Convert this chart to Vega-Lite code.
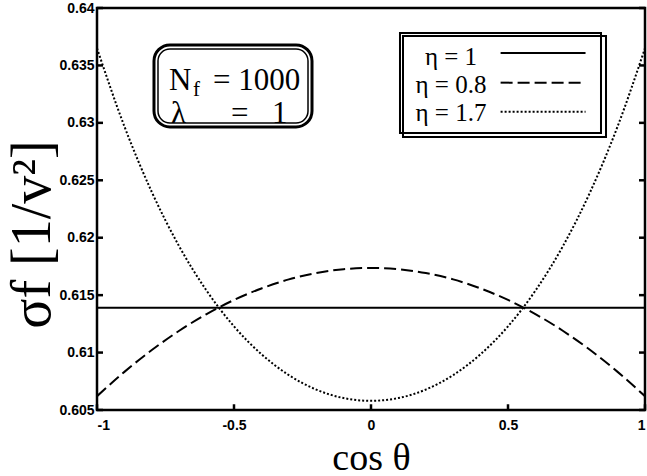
{
  "$schema": "https://vega.github.io/schema/vega-lite/v6.json",
  "autosize": "none",
  "width": 548,
  "height": 402,
  "padding": {"left": 97, "top": 8, "right": 2, "bottom": 66},
  "background": "white",
  "config": {
    "view": {"stroke": "black", "strokeWidth": 2.5},
    "axis": {"grid": false, "domain": false, "ticks": false, "labelColor": "black", "labelFont": "Liberation Sans", "labelFontSize": 14, "labelFontWeight": "bold", "titleColor": "black"}
  },
  "datasets": {
    "curves": [
      {"c": -1, "s": 0.6139, "eta": "1"},
      {"c": 1, "s": 0.6139, "eta": "1"},
      {"c": -1, "s": 0.6062, "eta": "0.8"},
      {"c": -0.9, "s": 0.60832, "eta": "0.8"},
      {"c": -0.8, "s": 0.61022, "eta": "0.8"},
      {"c": -0.7, "s": 0.6119, "eta": "0.8"},
      {"c": -0.6, "s": 0.61335, "eta": "0.8"},
      {"c": -0.5, "s": 0.61458, "eta": "0.8"},
      {"c": -0.4, "s": 0.61558, "eta": "0.8"},
      {"c": -0.3, "s": 0.61637, "eta": "0.8"},
      {"c": -0.2, "s": 0.61692, "eta": "0.8"},
      {"c": -0.1, "s": 0.61726, "eta": "0.8"},
      {"c": 0, "s": 0.61737, "eta": "0.8"},
      {"c": 0.1, "s": 0.61726, "eta": "0.8"},
      {"c": 0.2, "s": 0.61692, "eta": "0.8"},
      {"c": 0.3, "s": 0.61637, "eta": "0.8"},
      {"c": 0.4, "s": 0.61558, "eta": "0.8"},
      {"c": 0.5, "s": 0.61458, "eta": "0.8"},
      {"c": 0.6, "s": 0.61335, "eta": "0.8"},
      {"c": 0.7, "s": 0.6119, "eta": "0.8"},
      {"c": 0.8, "s": 0.61022, "eta": "0.8"},
      {"c": 0.9, "s": 0.60832, "eta": "0.8"},
      {"c": 1, "s": 0.6062, "eta": "0.8"},
      {"c": -1, "s": 0.6365, "eta": "1.7"},
      {"c": -0.9, "s": 0.62969, "eta": "1.7"},
      {"c": -0.8, "s": 0.62398, "eta": "1.7"},
      {"c": -0.7, "s": 0.61925, "eta": "1.7"},
      {"c": -0.6, "s": 0.61539, "eta": "1.7"},
      {"c": -0.5, "s": 0.61228, "eta": "1.7"},
      {"c": -0.4, "s": 0.60986, "eta": "1.7"},
      {"c": -0.3, "s": 0.60804, "eta": "1.7"},
      {"c": -0.2, "s": 0.60678, "eta": "1.7"},
      {"c": -0.1, "s": 0.60604, "eta": "1.7"},
      {"c": 0, "s": 0.6058, "eta": "1.7"},
      {"c": 0.1, "s": 0.60604, "eta": "1.7"},
      {"c": 0.2, "s": 0.60678, "eta": "1.7"},
      {"c": 0.3, "s": 0.60804, "eta": "1.7"},
      {"c": 0.4, "s": 0.60986, "eta": "1.7"},
      {"c": 0.5, "s": 0.61228, "eta": "1.7"},
      {"c": 0.6, "s": 0.61539, "eta": "1.7"},
      {"c": 0.7, "s": 0.61925, "eta": "1.7"},
      {"c": 0.8, "s": 0.62398, "eta": "1.7"},
      {"c": 0.9, "s": 0.62969, "eta": "1.7"},
      {"c": 1, "s": 0.6365, "eta": "1.7"}
    ],
    "yticks": [{"v": 0.605}, {"v": 0.61}, {"v": 0.615}, {"v": 0.62}, {"v": 0.625}, {"v": 0.63}, {"v": 0.635}, {"v": 0.64}],
    "xticks": [{"v": -1}, {"v": -0.5}, {"v": 0}, {"v": 0.5}, {"v": 1}],
    "one": [{}]
  },
  "data": {"name": "curves"},
  "resolve": {"axis": {"y": "independent"}},
  "layer": [
    {
      "mark": {"type": "line", "color": "black", "strokeWidth": 2, "interpolate": "monotone", "clip": true},
      "encoding": {
        "x": {"field": "c", "type": "quantitative", "scale": {"domain": [-1, 1], "nice": false},
          "axis": {"values": [-1, -0.5, 0, 0.5, 1], "labelExpr": "'' + datum.value", "labelPadding": 8, "labelFontSize": 14,
            "title": "cos θ", "titleFont": "Liberation Serif", "titleFontSize": 38, "titleFontWeight": "normal", "titleBaseline": "alphabetic", "titleY": 59}},
        "y": {"field": "s", "type": "quantitative", "scale": {"domain": [0.605, 0.64], "nice": false, "zero": false},
          "axis": {"orient": "left", "values": [0.605, 0.61, 0.615, 0.62, 0.625, 0.63, 0.635, 0.64], "labelExpr": "'' + datum.value", "labelPadding": 3, "labelFontSize": 14,
            "title": "σf  [1/v²]", "titleFont": "Liberation Serif", "titleFontSize": 56, "titleFontWeight": "normal", "titleBaseline": "middle", "titleAlign": "center", "titleX": -65, "titleY": 226}},
        "strokeDash": {"field": "eta", "type": "nominal",
          "scale": {"domain": ["1", "0.8", "1.7"], "range": [[1, 0], [12, 5], [2, 2]]}, "legend": null}
      }
    },
    {
      "data": {"name": "yticks"},
      "mark": {"type": "rule", "color": "black", "strokeWidth": 2.5},
      "encoding": {
        "x": {"datum": -1}, "x2": {"datum": -0.978},
        "y": {"field": "v", "type": "quantitative", "axis": null}
      }
    },
    {
      "data": {"name": "yticks"},
      "mark": {"type": "rule", "color": "black", "strokeWidth": 2.5},
      "encoding": {
        "x": {"datum": 0.978}, "x2": {"datum": 1},
        "y": {"field": "v", "type": "quantitative", "axis": null}
      }
    },
    {
      "data": {"name": "xticks"},
      "mark": {"type": "rule", "color": "black", "strokeWidth": 2.5},
      "encoding": {
        "x": {"field": "v", "type": "quantitative"},
        "y": {"datum": 0.605, "axis": null}, "y2": {"datum": 0.6055}
      }
    },
    {
      "data": {"name": "one"},
      "mark": {"type": "rect", "fill": "white", "stroke": "black", "strokeWidth": 2},
      "encoding": {
        "x": {"datum": 0.1168}, "x2": {"datum": 0.8577},
        "y": {"datum": 0.63756, "axis": null}, "y2": {"datum": 0.62877}
      }
    },
    {
      "data": {"name": "one"},
      "mark": {"type": "rect", "fill": null, "stroke": "black", "strokeWidth": 2},
      "encoding": {
        "x": {"datum": 0.1058}, "x2": {"datum": 0.8394},
        "y": {"datum": 0.63782, "axis": null}, "y2": {"datum": 0.62912}
      }
    },
    {
      "data": {"name": "one"},
      "mark": {"type": "rule", "color": "black", "strokeWidth": 2},
      "encoding": {
        "x": {"datum": 0.473}, "x2": {"datum": 0.783},
        "y": {"datum": 0.63608, "axis": null}
      }
    },
    {
      "data": {"name": "one"},
      "mark": {"type": "rule", "color": "black", "strokeWidth": 2, "strokeDash": [12, 5]},
      "encoding": {
        "x": {"datum": 0.473}, "x2": {"datum": 0.783},
        "y": {"datum": 0.6335, "axis": null}
      }
    },
    {
      "data": {"name": "one"},
      "mark": {"type": "rule", "color": "black", "strokeWidth": 2, "strokeDash": [2, 2]},
      "encoding": {
        "x": {"datum": 0.473}, "x2": {"datum": 0.783},
        "y": {"datum": 0.63097, "axis": null}
      }
    },
    {
      "data": {"name": "one"},
      "mark": {"type": "text", "font": "Liberation Serif", "fontSize": 25, "align": "center", "baseline": "alphabetic", "lineHeight": 28, "color": "black"},
      "encoding": {
        "x": {"datum": 0.292},
        "y": {"datum": 0.63504, "axis": null},
        "text": {"value": ["η = 1", "η = 0.8", "η = 1.7"]}
      }
    },
    {
      "data": {"name": "one"},
      "mark": {"type": "rect", "fill": "white", "stroke": "black", "strokeWidth": 3, "cornerRadius": 16},
      "encoding": {
        "x": {"datum": -0.792}, "x2": {"datum": -0.2153},
        "y": {"datum": 0.63678, "axis": null}, "y2": {"datum": 0.62964}
      }
    },
    {
      "data": {"name": "one"},
      "mark": {"type": "rect", "fill": null, "stroke": "black", "strokeWidth": 1.5, "cornerRadius": 12},
      "encoding": {
        "x": {"datum": -0.7774}, "x2": {"datum": -0.2299},
        "y": {"datum": 0.63643, "axis": null}, "y2": {"datum": 0.62999}
      }
    },
    {
      "data": {"name": "one"},
      "mark": {"type": "text", "font": "Liberation Serif", "fontSize": 31, "align": "left", "baseline": "alphabetic", "color": "black"},
      "encoding": {
        "x": {"datum": -0.7372},
        "y": {"datum": 0.632861, "axis": null},
        "text": {"value": "N"}
      }
    },
    {
      "data": {"name": "one"},
      "mark": {"type": "text", "font": "Liberation Serif", "fontSize": 21, "align": "left", "baseline": "alphabetic", "color": "black"},
      "encoding": {
        "x": {"datum": -0.6496},
        "y": {"datum": 0.632339, "axis": null},
        "text": {"value": "f"}
      }
    },
    {
      "data": {"name": "one"},
      "mark": {"type": "text", "font": "Liberation Serif", "fontSize": 31, "align": "left", "baseline": "alphabetic", "color": "black"},
      "encoding": {
        "x": {"datum": -0.5766},
        "y": {"datum": 0.632861, "axis": null},
        "text": {"value": "= 1000"}
      }
    },
    {
      "data": {"name": "one"},
      "mark": {"type": "text", "font": "Liberation Serif", "fontSize": 31, "align": "left", "baseline": "alphabetic", "color": "black"},
      "encoding": {
        "x": {"datum": -0.7299},
        "y": {"datum": 0.629988, "axis": null},
        "text": {"value": "λ"}
      }
    },
    {
      "data": {"name": "one"},
      "mark": {"type": "text", "font": "Liberation Serif", "fontSize": 31, "align": "left", "baseline": "alphabetic", "color": "black"},
      "encoding": {
        "x": {"datum": -0.5109},
        "y": {"datum": 0.629988, "axis": null},
        "text": {"value": "="}
      }
    },
    {
      "data": {"name": "one"},
      "mark": {"type": "text", "font": "Liberation Serif", "fontSize": 31, "align": "left", "baseline": "alphabetic", "color": "black"},
      "encoding": {
        "x": {"datum": -0.3613},
        "y": {"datum": 0.629988, "axis": null},
        "text": {"value": "1"}
      }
    }
  ]
}
